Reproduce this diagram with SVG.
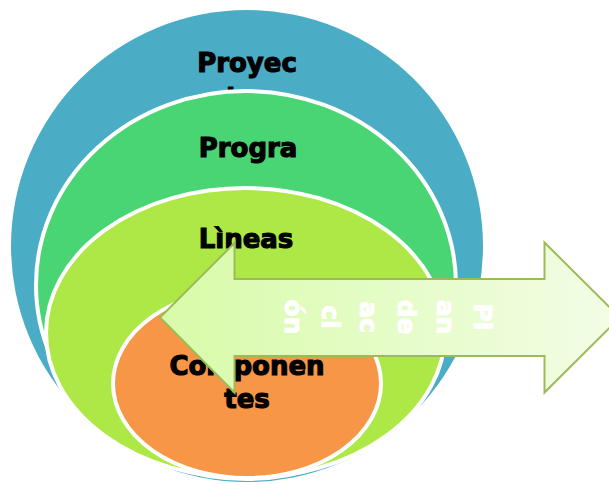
<svg xmlns="http://www.w3.org/2000/svg" width="609" height="484" viewBox="0 0 609 484">
  <style>
    .lbl { font-family: "DejaVu Sans", "Liberation Sans", sans-serif; font-weight: bold; font-size: 26px; fill: #000000; stroke: #000000; stroke-width: 1.1; text-anchor: middle; }
    .arr { font-family: "DejaVu Sans", "Liberation Sans", sans-serif; font-weight: bold; font-size: 25px; fill: #FFFFFF; stroke: #FFFFFF; stroke-width: 1; text-anchor: middle; }
    .ring { stroke: #FFFFFF; stroke-width: 4; }
  </style>
  <defs>
    <linearGradient id="arrowGrad" x1="160" y1="0" x2="609" y2="0" gradientUnits="userSpaceOnUse">
      <stop offset="0" stop-color="#D8FBA8"/>
      <stop offset="1" stop-color="#F2FDE5"/>
    </linearGradient>
  </defs>
  <rect width="609" height="484" fill="#FFFFFF"/>
  <g id="proyecto">
    <ellipse cx="247" cy="246" rx="236" ry="236" fill="#4BACC6"/>
    <text class="lbl" x="247" y="72">Proyec</text>
    <text class="lbl" x="241" y="106">to</text>
  </g>
  <g id="programa">
    <ellipse class="ring" cx="246" cy="285" rx="210" ry="194" fill="#4AD574"/>
    <text class="lbl" x="248" y="157">Progra</text>
  </g>
  <g id="lineas">
    <ellipse class="ring" cx="245.5" cy="333" rx="199.5" ry="145" fill="#AEE846"/>
    <text class="lbl" x="246" y="248">Lìneas</text>
  </g>
  <g id="componentes">
    <ellipse class="ring" cx="247" cy="383.5" rx="134" ry="94.5" fill="#F79646"/>
    <text class="lbl" x="247" y="375">Componen</text>
    <text class="lbl" x="247" y="408">tes</text>
  </g>
  <g id="connectors">
    <g id="plan-de-accion">
      <polygon points="160,317.5 234.5,243 234.5,279 544.5,279 544.5,242.5 620,317.5 544.5,392.5 544.5,356 234.5,356 234.5,392.5" fill="url(#arrowGrad)" stroke="#9BBB59" stroke-width="2" stroke-linejoin="miter"/>
      <text class="arr" transform="translate(474,317) rotate(90)">Pl</text>
      <text class="arr" transform="translate(437,317) rotate(90)">an</text>
      <text class="arr" transform="translate(398,317) rotate(90)">de</text>
      <text class="arr" transform="translate(360,317) rotate(90)">ac</text>
      <text class="arr" transform="translate(322,317) rotate(90)">ci</text>
      <text class="arr" transform="translate(285,317) rotate(90)">ón</text>
    </g>
  </g>
</svg>
